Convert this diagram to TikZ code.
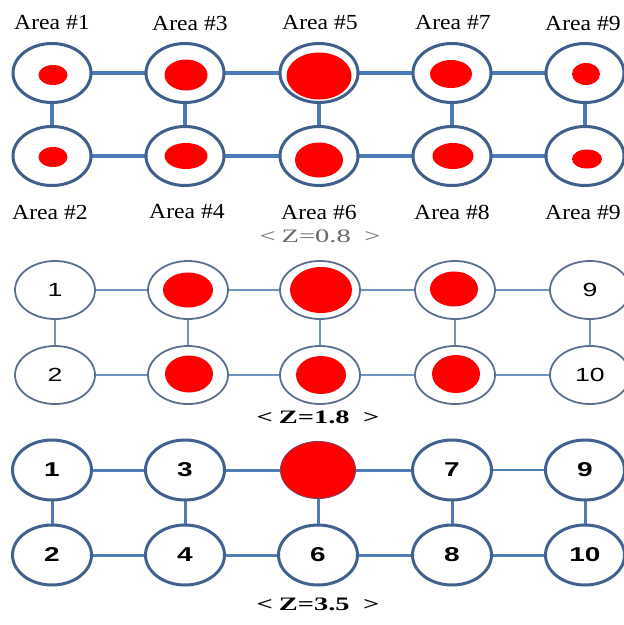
\documentclass[tikz,border=0pt]{standalone}
\usepackage{fontspec}
\setmainfont{Liberation Serif}
\newfontfamily\numfont{Liberation Sans}
\usetikzlibrary{shapes.geometric}
\definecolor{ringA}{HTML}{3F5F8C}
\definecolor{ringB}{HTML}{5B6F8E}
\definecolor{ringC}{HTML}{41618F}
\definecolor{linkA}{HTML}{4A7AB8}
\definecolor{linkB}{HTML}{7094C0}
\definecolor{linkC}{HTML}{4F7CB5}
\definecolor{capgray}{HTML}{6A6A6A}
\newcommand{\wide}[2]{\scalebox{#1}[1]{#2}}
\tikzset{
  ringa/.style={ellipse,draw=ringA,line width=3pt,fill=white,minimum width=78pt,minimum height=59pt,inner sep=0pt},
  ringb/.style={ellipse,draw=ringB,line width=1.8pt,fill=white,minimum width=80pt,minimum height=58pt,inner sep=0pt,font=\numfont\fontsize{19}{19}\selectfont},
  ringc/.style={ellipse,draw=ringC,line width=3pt,fill=white,minimum width=79pt,minimum height=60pt,inner sep=0pt,font=\numfont\bfseries\fontsize{20}{20}\selectfont},
  dot/.style={ellipse,fill=red,draw=none,inner sep=0pt},
  linka/.style={draw=linkA,line width=3.5pt},
  linkb/.style={draw=linkB,line width=2.5pt},
  linkc/.style={draw=linkC,line width=3pt},
  arealab/.style={inner sep=0pt,font=\fontsize{21.5}{21.5}\selectfont},
  caplab/.style={inner sep=0pt,font=\fontsize{19}{19}\selectfont},
}
\begin{document}
\begin{tikzpicture}[x=1pt,y=-1pt]
\useasboundingbox[fill=white] (0,0) rectangle (624,625);

% ---------- Panel 1 (Z=0.8) ----------
\draw[linka] (52,73) -- (185,73) -- (319,73) -- (452,73) -- (585,73);
\draw[linka] (52,156) -- (185,156) -- (319,156) -- (452,156) -- (585,156);
\draw[linka] (52,73) -- (52,156);
\draw[linka] (185,73) -- (185,156);
\draw[linka] (319,73) -- (319,156);
\draw[linka] (452,73) -- (452,156);
\draw[linka] (585,73) -- (585,156);
\node[ringa] (a1) at (52,73) {};
\node[ringa] (a3) at (185,73) {};
\node[ringa] (a5) at (319,73) {};
\node[ringa] (a7) at (452,73) {};
\node[ringa] (a9) at (585,73) {};
\node[ringa] (a2) at (52,156) {};
\node[ringa] (a4) at (185,156) {};
\node[ringa] (a6) at (319,156) {};
\node[ringa] (a8) at (452,156) {};
\node[ringa] (a10) at (585,156) {};
\node[dot,minimum width=29pt,minimum height=20pt] (d1) at (53,75) {};
\node[dot,minimum width=43pt,minimum height=31pt] (d3) at (186,75) {};
\node[dot,minimum width=65pt,minimum height=47pt] (d5) at (319,76) {};
\node[dot,minimum width=42pt,minimum height=28pt] (d7) at (451,74) {};
\node[dot,minimum width=28pt,minimum height=22pt] (d9) at (586,74) {};
\node[dot,minimum width=29pt,minimum height=20pt] (d2) at (53,157) {};
\node[dot,minimum width=43pt,minimum height=26pt] (d4) at (186,156) {};
\node[dot,minimum width=48pt,minimum height=35pt] (d6) at (319,160) {};
\node[dot,minimum width=41pt,minimum height=26pt] (d8) at (453,156) {};
\node[dot,minimum width=30pt,minimum height=19pt] (d10) at (587,159) {};

\node[arealab] (l1) at (52,23) {\wide{1.1}{Area \#1}};
\node[arealab] (l3) at (190,23) {\wide{1.1}{Area \#3}};
\node[arealab] (l5) at (320,23) {\wide{1.1}{Area \#5}};
\node[arealab] (l7) at (453,23) {\wide{1.1}{Area \#7}};
\node[arealab] (l9) at (583,23) {\wide{1.1}{Area \#9}};
\node[arealab] (l2) at (50,212) {\wide{1.1}{Area \#2}};
\node[arealab] (l4) at (187,212) {\wide{1.1}{Area \#4}};
\node[arealab] (l6) at (319,212) {\wide{1.1}{Area \#6}};
\node[arealab] (l8) at (452,212) {\wide{1.1}{Area \#8}};
\node[arealab] (l9b) at (583,212) {\wide{1.1}{Area \#9}};
\node[caplab,text=capgray] (c1) at (320,236) {\wide{1.5}{<\hspace{4pt}Z=0.8\hspace{9pt}>}};

% ---------- Panel 2 (Z=1.8) ----------
\draw[linkb] (55,290) -- (188,290) -- (320,290) -- (455,290) -- (590,290);
\draw[linkb] (55,375) -- (188,375) -- (320,375) -- (455,375) -- (590,375);
\draw[linkb] (55,290) -- (55,375);
\draw[linkb] (188,290) -- (188,375);
\draw[linkb] (320,290) -- (320,375);
\draw[linkb] (455,290) -- (455,375);
\draw[linkb] (590,290) -- (590,375);
\node[ringb] (b1) at (55,290) {\wide{1.4}{1}};
\node[ringb] (b3) at (188,290) {};
\node[ringb] (b5) at (320,290) {};
\node[ringb] (b7) at (455,290) {};
\node[ringb] (b9) at (590,290) {\wide{1.4}{9}};
\node[ringb] (b2) at (55,375) {\wide{1.4}{2}};
\node[ringb] (b4) at (188,375) {};
\node[ringb] (b6) at (320,375) {};
\node[ringb] (b8) at (455,375) {};
\node[ringb] (b10) at (590,375) {\wide{1.4}{10}};
\node[dot,minimum width=50pt,minimum height=35pt] (e3) at (188,290) {};
\node[dot,minimum width=62pt,minimum height=46pt] (e5) at (321,290) {};
\node[dot,minimum width=48pt,minimum height=35pt] (e7) at (454,289) {};
\node[dot,minimum width=48pt,minimum height=37pt] (e4) at (189,374) {};
\node[dot,minimum width=50pt,minimum height=38pt] (e6) at (321,375) {};
\node[dot,minimum width=48pt,minimum height=38pt] (e8) at (456,374) {};
\node[caplab,font=\bfseries\fontsize{19}{19}\selectfont] (c2) at (318,417) {\wide{1.5}{<\hspace{4pt}Z=1.8\hspace{9pt}>}};

% ---------- Panel 3 (Z=3.5) ----------
\draw[linkc] (52,470) -- (185,470) -- (318,470) -- (452,470);
\draw[draw=linkC,line width=1.5pt] (452,470) -- (585,470);
\draw[linkc] (52,555) -- (185,555) -- (318,555) -- (452,555) -- (585,555);
\draw[linkc] (52,470) -- (52,555);
\draw[linkc] (185,470) -- (185,555);
\draw[linkc] (318,470) -- (318,555);
\draw[linkc] (452,470) -- (452,555);
\draw[linkc] (585,470) -- (585,555);
\node[ringc] (c1n) at (52,470) {\wide{1.4}{1}};
\node[ringc] (c3n) at (185,470) {\wide{1.4}{3}};
\node[ellipse,fill=red,draw=ringC!60!red,line width=1pt,minimum width=75pt,minimum height=57pt,inner sep=0pt] (c5n) at (318,470) {};
\node[ringc] (c7n) at (452,470) {\wide{1.4}{7}};
\node[ringc] (c9n) at (585,470) {\wide{1.4}{9}};
\node[ringc] (c2n) at (52,555) {\wide{1.4}{2}};
\node[ringc] (c4n) at (185,555) {\wide{1.4}{4}};
\node[ringc] (c6n) at (318,555) {\wide{1.4}{6}};
\node[ringc] (c8n) at (452,555) {\wide{1.4}{8}};
\node[ringc] (c10n) at (585,555) {\wide{1.4}{10}};
\node[caplab,font=\bfseries\fontsize{19}{19}\selectfont] (c3) at (318,604) {\wide{1.5}{<\hspace{4pt}Z=3.5\hspace{9pt}>}};
\end{tikzpicture}
\end{document}
